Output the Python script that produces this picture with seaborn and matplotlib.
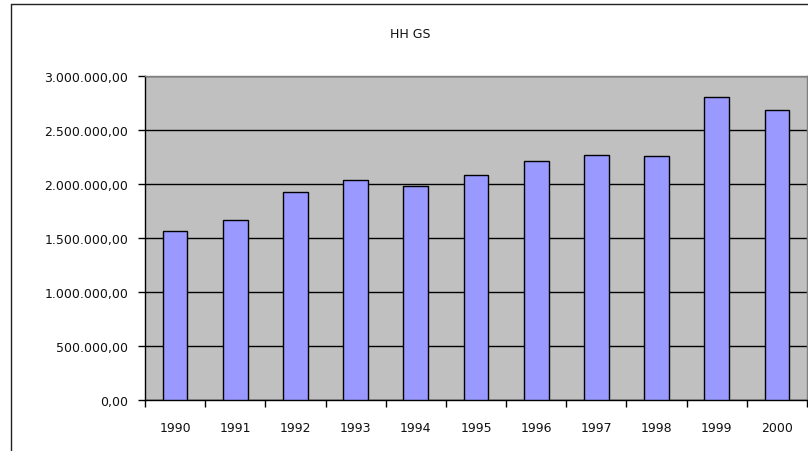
import matplotlib
matplotlib.use("Agg")
import matplotlib.pyplot as plt
from matplotlib.lines import Line2D
from matplotlib.ticker import FuncFormatter, FixedLocator
import seaborn as sns
import pandas as pd
import numpy as np

years = ["1990", "1991", "1992", "1993", "1994", "1995", "1996", "1997", "1998", "1999", "2000"]
values = [1562000, 1664000, 1930000, 2035000, 1985000, 2082000, 2217000, 2273000, 2261000, 2805000, 2690000]
title = "HH GS"

sns.set_theme(style="white")
plt.rcParams["font.family"] = ["DejaVu Sans"]

df = pd.DataFrame({"year": years, "value": values})

fig = plt.figure(figsize=(8.08, 4.52), dpi=100)
ax = fig.add_axes([145 / 808, (452 - 400.7) / 452, (807 - 145) / 808, (400.7 - 77.3) / 452])
ax.set_facecolor("#C0C0C0")

sns.barplot(data=df, x="year", y="value", color="#9999FF", width=0.41,
            edgecolor="black", linewidth=1.0, saturation=1, ax=ax, zorder=3)

ax.set_ylim(0, 3000000)
ax.set_xlim(-0.5, len(years) - 0.5)
ax.set_yticks(np.arange(0, 3000001, 500000))


def fmt(v, pos):
    s = f"{v:,.2f}"
    return s.replace(",", "X").replace(".", ",").replace("X", ".")


ax.yaxis.set_major_formatter(FuncFormatter(fmt))
ax.yaxis.grid(True, color="black", linewidth=1.0, zorder=1)
ax.set_axisbelow(True)

ax.xaxis.set_minor_locator(FixedLocator(np.arange(-0.5, len(years), 1.0)))
ax.tick_params(axis="x", which="major", length=0, pad=15, labelsize=9, colors="#111111")
ax.tick_params(axis="x", which="minor", length=5, width=1, direction="out", color="black", bottom=True)
ax.tick_params(axis="y", which="major", length=5, width=1, direction="out", pad=7, labelsize=9,
               colors="#111111", left=True)
ax.tick_params(axis="y", colors="black", labelcolor="#111111")

ax.set_xlabel("")
ax.set_ylabel("")

for side in ["left", "bottom"]:
    ax.spines[side].set_color("black")
    ax.spines[side].set_linewidth(1.0)
for side in ["top", "right"]:
    ax.spines[side].set_color("#808080")
    ax.spines[side].set_linewidth(1.0)
    ax.spines[side].set_visible(True)

fig.text(410 / 808, 1 - 35 / 452, title, ha="center", va="center", fontsize=9, color="#111111")

# outer chart frame (left and top edges visible)
fig.add_artist(Line2D([10.5 / 808, 10.5 / 808], [0, 1 - 4.5 / 452], transform=fig.transFigure,
                      color="#222222", linewidth=1.0))
fig.add_artist(Line2D([10.5 / 808, 1], [1 - 4.5 / 452, 1 - 4.5 / 452], transform=fig.transFigure,
                      color="#222222", linewidth=1.0))

fig.savefig("out.png", dpi=100)
